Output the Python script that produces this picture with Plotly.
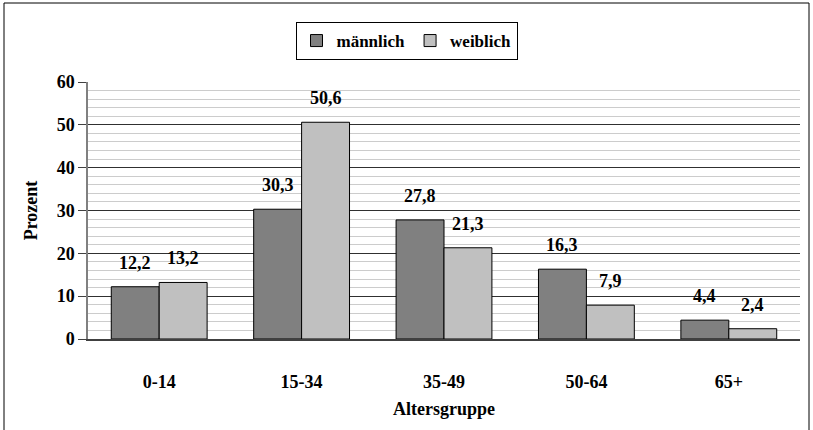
import plotly.graph_objects as go

# Altersverteilung nach Geschlecht (Prozent)
age_groups = ['0-14', '15-34', '35-49', '50-64', '65+']
male = [12.2, 30.3, 27.8, 16.3, 4.4]
female = [13.2, 50.6, 21.3, 7.9, 2.4]
series_names = ['männlich', 'weiblich']

FONT = 'Liberation Serif'
W, H = 813, 430
L, R, T, B = 88, 13, 82, 91


def fmt(v):
    return f'{v:.1f}'.replace('.', ',')


fig = go.Figure()
fig.add_trace(go.Bar(
    x=age_groups, y=male, name=f'<b>{series_names[0]}</b>',
    marker=dict(color='#808080', line=dict(color='#000000', width=1)),
))
fig.add_trace(go.Bar(
    x=age_groups, y=female, name=f'<b>{series_names[1]}</b>',
    marker=dict(color='#c0c0c0', line=dict(color='#000000', width=1)),
))

# value labels above the bars
for vals, shift in [(male, -24), (female, 24)]:
    for cat, v in zip(age_groups, vals):
        fig.add_annotation(
            x=cat, y=v, text=f'<b>{fmt(v)}</b>', showarrow=False,
            xshift=shift, yshift=12, yanchor='bottom',
            font=dict(family=FONT, size=18, color='#000000'),
        )

# outer frame
pw, ph = W - L - R, H - T - B
fig.add_shape(
    type='rect', xref='paper', yref='paper',
    x0=(4 - L) / pw, x1=(W - 4 - L) / pw,
    y0=-(H + 5 - T - ph) / ph, y1=(T - 3) / ph + 1,
    line=dict(color='#000000', width=1), layer='below',
)

fig.update_layout(
    width=W, height=H,
    margin=dict(l=L, r=R, t=T, b=B, autoexpand=False),
    paper_bgcolor='white', plot_bgcolor='white',
    font=dict(family=FONT, size=18, color='#000000'),
    barmode='group', bargap=0.327, bargroupgap=0,
    showlegend=True,
    legend=dict(
        orientation='h', xref='container', yref='container',
        x=0.5, xanchor='center', y=1 - 22 / H, yanchor='top',
        bordercolor='#000000', borderwidth=1,
        font=dict(family=FONT, size=17, color='#000000'),
        itemwidth=30, tracegroupgap=0,
    ),
    xaxis=dict(
        automargin=False,
        title=dict(text='<b>Altersgruppe</b>', font=dict(size=18), standoff=11),
        tickfont=dict(size=18), ticklabelstandoff=26,
        tickprefix='<b>', ticksuffix='</b>',
        showline=True, linecolor='#404040', linewidth=1.5,
        showgrid=False, ticks='',
    ),
    yaxis=dict(
        automargin=False,
        title=dict(text='<b>Prozent</b>', font=dict(size=18), standoff=14),
        range=[0, 60], dtick=10, tickfont=dict(size=18),
        tickprefix='<b>', ticksuffix='</b>',
        showline=True, linecolor='#808080', linewidth=1.5,
        ticks='outside', ticklen=8, tickcolor='#404040',
        showgrid=True, gridcolor='#303030', gridwidth=1,
        minor=dict(dtick=2, showgrid=True, gridcolor='#cccccc', gridwidth=1),
        zeroline=False,
    ),
)

fig.write_html(
    'out.html',
    config={'displayModeBar': False},
    post_script="document.body.style.margin='0';document.body.style.overflow='hidden';",
)
